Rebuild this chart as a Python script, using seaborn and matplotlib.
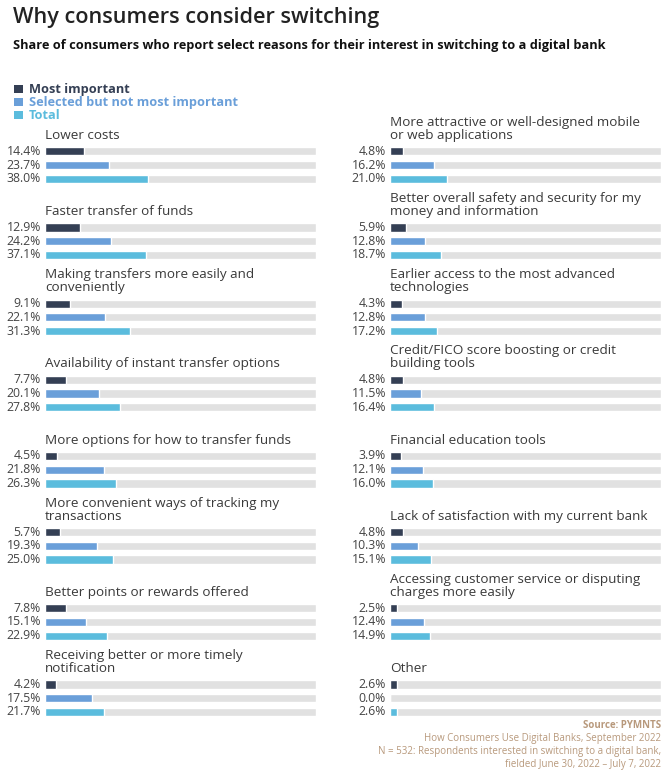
import pandas as pd
import seaborn as sns
import matplotlib.pyplot as plt
from matplotlib.patches import Patch

# series / colours
series = ["Most important", "Selected but not most important", "Total"]
colors = ["#343f54", "#6a9fd9", "#5bbcdd"]
track_color = "#e1e1e1"

left_reasons = [
    "Lower costs",
    "Faster transfer of funds",
    "Making transfers more easily and\nconveniently",
    "Availability of instant transfer options",
    "More options for how to transfer funds",
    "More convenient ways of tracking my\ntransactions",
    "Better points or rewards offered",
    "Receiving better or more timely\nnotification",
]
left_most = [14.4, 12.9, 9.1, 7.7, 4.5, 5.7, 7.8, 4.2]
left_selected = [23.7, 24.2, 22.1, 20.1, 21.8, 19.3, 15.1, 17.5]
left_total = [38.0, 37.1, 31.3, 27.8, 26.3, 25.0, 22.9, 21.7]

right_reasons = [
    "More attractive or well-designed mobile\nor web applications",
    "Better overall safety and security for my\nmoney and information",
    "Earlier access to the most advanced\ntechnologies",
    "Credit/FICO score boosting or credit\nbuilding tools",
    "Financial education tools",
    "Lack of satisfaction with my current bank",
    "Accessing customer service or disputing\ncharges more easily",
    "Other",
]
right_most = [4.8, 5.9, 4.3, 4.8, 3.9, 4.8, 2.5, 2.6]
right_selected = [16.2, 12.8, 12.8, 11.5, 12.1, 10.3, 12.4, 0.0]
right_total = [21.0, 18.7, 17.2, 16.4, 16.0, 15.1, 14.9, 2.6]


def to_long(reasons, most, selected, total):
    rows = []
    for vals, s in zip([most, selected, total], series):
        for r, v in zip(reasons, vals):
            rows.append({"reason": r, "series": s, "value": v, "track": 100})
    return pd.DataFrame(rows)


sns.set_theme(style="white")
plt.rcParams["font.family"] = ["Open Sans", "DejaVu Sans"]

fig = plt.figure(figsize=(6.71, 7.70), dpi=100)

txt_col = "#3a3a3a"
W, GAP = 0.54, 0.40


def panel(ax, df, reasons):
    # grey tracks (0-100%) first, then the real values on top
    sns.barplot(data=df, y="reason", x="track", hue="series", order=reasons,
                hue_order=series, palette=[track_color] * 3, orient="h",
                width=W, gap=GAP, legend=False, ax=ax, saturation=1)
    sns.barplot(data=df, y="reason", x="value", hue="series", order=reasons,
                hue_order=series, palette=colors, orient="h",
                width=W, gap=GAP, legend=False, ax=ax, saturation=1)
    ax.set_xlim(0, 100)
    ax.set_ylim(7.3, -0.92)
    conts = ax.containers[-3:]
    for c, s in zip(conts, series):
        vals = df[df.series == s].set_index("reason").loc[reasons, "value"]
        for bar, v in zip(c, vals):
            ax.text(-1.5, bar.get_y() + bar.get_height() / 2, f"{v:.1f}%",
                    ha="right", va="center", fontsize=8.8, color="#444444",
                    clip_on=False)
    for bar, r in zip(conts[0], reasons):
        ax.text(0, bar.get_y() - 0.07, r, ha="left", va="bottom",
                fontsize=9.7, color=txt_col, linespacing=1.0)
    ax.set_axis_off()


axl = fig.add_axes([45 / 671, 49 / 770, 271 / 671, 626 / 770])
axr = fig.add_axes([390 / 671, 49 / 770, 271 / 671, 626 / 770])
panel(axl, to_long(left_reasons, left_most, left_selected, left_total), left_reasons)
panel(axr, to_long(right_reasons, right_most, right_selected, right_total), right_reasons)

fig.text(13 / 671, 1 - 17 / 770, "Why consumers consider switching",
         fontsize=15.6, color="#222222", va="center", ha="left", weight="semibold")
fig.text(13 / 671, 1 - 45 / 770,
         "Share of consumers who report select reasons for their interest in switching to a digital bank",
         fontsize=9.2, color="#111111", va="center", ha="left", weight="bold")

handles = [Patch(facecolor=c, edgecolor="none") for c in colors]
leg = fig.legend(handles, series, loc="upper left",
                 bbox_to_anchor=(8 / 671, 1 - 77 / 770), frameon=False,
                 handlelength=0.65, handleheight=0.65, handletextpad=0.5,
                 labelspacing=0.0, borderpad=0,
                 prop={"weight": "bold", "size": 9.2})
for t, c in zip(leg.get_texts(), colors):
    t.set_color(c)

foot_col = "#b8997c"
fig.text(661 / 671, 1 - 725 / 770, "Source: PYMNTS", ha="right", va="center",
         fontsize=7, color=foot_col, weight="bold")
foot = ["How Consumers Use Digital Banks, September 2022",
        "N = 532: Respondents interested in switching to a digital bank,",
        "fielded June 30, 2022 \u2013 July 7, 2022"]
for k, line in enumerate(foot):
    fig.text(661 / 671, 1 - (739 + 12.5 * k) / 770, line, ha="right",
             va="center", fontsize=7, color=foot_col)

fig.savefig("out.png", dpi=100, facecolor="white")
